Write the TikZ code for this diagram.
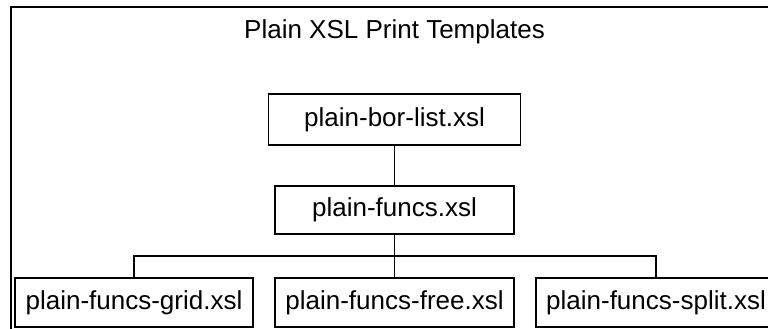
\documentclass[tikz,border=0pt]{standalone}
\usepackage{fontspec}
\setmainfont{Liberation Sans}
\begin{document}
\begin{tikzpicture}[x=1pt,y=-1pt,
  filebox/.style={draw=black,line width=1.5pt,inner sep=0pt,minimum height=#1,
    font=\fontsize{26}{30}\selectfont,text height=18pt,text depth=5pt},
  link/.style={draw=black,line width=1.3pt},
  frameline/.style={draw=black,line width=2pt}]
\useasboundingbox (0,0) rectangle (768,329);
\begin{scope}
\clip (0,0) rectangle (768,329);
% outer frame (extends beyond the picture on right and bottom)
\coordinate (fbl) at (11,340);
\coordinate (ftl) at (11,7);
\coordinate (ftr) at (780,7);
\draw[frameline] (fbl) -- (ftl) -- (ftr);
\node[anchor=base,font=\fontsize{26}{30}\selectfont,inner sep=0pt] (title) at (394.5,39) {Plain XSL Print Templates};
\node[filebox=51pt,minimum width=252pt] (top) at (394.5,119.5) {plain-bor-list.xsl};
\node[filebox=48pt,minimum width=239pt] (mid) at (394.5,210) {plain-funcs.xsl};
\node[filebox=49pt,minimum width=238pt] (grid) at (134,302.5) {plain-funcs-grid.xsl};
\node[filebox=49pt,minimum width=239pt] (free) at (394.5,302.5) {plain-funcs-free.xsl};
\node[filebox=49pt,minimum width=240pt] (split) at (656,302.5) {plain-funcs-split.xsl};
\coordinate (bus) at (394.5,256);
\draw[link] (top.south) -- (mid.north);
\draw[link] (mid.south) -- (free.north);
\draw[link] (grid.north) |- (bus) -| (split.north);
\end{scope}
\end{tikzpicture}
\end{document}
